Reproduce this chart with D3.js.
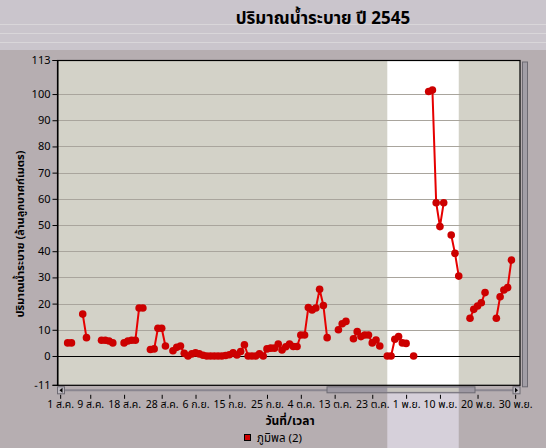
<!DOCTYPE html>
<html lang="th">
<head>
<meta charset="UTF-8">
<title>ปริมาณน้ำระบาย ปี 2545</title>
<script src="https://cdn.jsdelivr.net/npm/d3@7"></script>
<style type="text/css">
    body { margin: 0; background: #b7afb3; }
    text { font-family: "Noto Sans Thai", Tahoma, "Noto Sans", "DejaVu Sans", sans-serif; }
    .gridLine { stroke: #a9a59d; stroke-width: 1; }
    .tickText { fill: #000; }
</style>
</head>
<body>
<svg id="chart"></svg>
<script>

    // Sizes of the SVG
    var width = 546;
    var height = 448;

    // Data: daily release (million m3), 1 Aug 2002 (2545) onward, null = no data
    var startDate = "2002-08-01";
    var values = [
        null, null, 5, 5, null, null, 16, 7, null, null,
        null, 6, 6, 5.7, 5, null, null, 5, 5.7, 6,
        6, 18.3, 18.3, null, 2.5, 2.7, 10.6, 10.6, 3.8, null,
        2, 3.3, 3.8, 1, 0, 0.8, 1.2, 0.8, 0.3, 0,
        0, 0, 0, 0, 0.2, 0.5, 1.2, 0.4, 1.7, 4.3,
        0, 0, 0, 0.8, 0, 2.7, 3, 3, 4.6, 2.3,
        3.5, 4.6, 3.6, 3.6, 8, 8, 18.5, 17.6, 18.3, 25.5,
        19.3, 7, null, null, 10, 12.3, 13.2, null, 6.6, 9.3,
        7.4, 8, 8, 5, 6.1, 3.8, null, 0, 0, 6.4,
        7.4, 5, 4.8, null, 0, null, null, null, 101, 101.5,
        58.5, 49.4, 58.5, null, 46.2, 39.2, 30.5, null, null, 14.4,
        17.8, 19.1, 20.3, 24.2, null, null, 14.4, 22.6, 25.2, 26.1,
        36.6, null
    ];

    // Axis ticks
    var yTicks = [-11, 0, 10, 20, 30, 40, 50, 60, 70, 80, 90, 100, 113];
    var xTickDates = ["2002-08-01", "2002-08-09", "2002-08-18", "2002-08-28", "2002-09-06",
        "2002-09-15", "2002-09-25", "2002-10-04", "2002-10-13", "2002-10-23",
        "2002-11-01", "2002-11-10", "2002-11-20", "2002-11-30"];
    var xTickLabels = ["1 ส.ค.", "9 ส.ค.", "18 ส.ค.", "28 ส.ค.", "6 ก.ย.", "15 ก.ย.", "25 ก.ย.",
        "4 ต.ค.", "13 ต.ค.", "23 ต.ค.", "1 พ.ย.", "10 พ.ย.", "20 พ.ย.", "30 พ.ย."];

    // Highlighted period (white band)
    var bandDates = ["2002-10-27", "2002-11-15"];

    var title = "ปริมาณน้ำระบาย ปี 2545";
    var yTitle = "ปริมาณน้ำระบาย (ล้านลูกบาศก์เมตร)";
    var xTitle = "วันที่/เวลา";
    var seriesName = "ภูมิพล (2)";

    var parse = d3.timeParse("%Y-%m-%d");
    var start = parse(startDate);
    var points = values.map(function (v, i) {
        return {date: d3.timeDay.offset(start, i), value: v};
    });

    // Plot box
    var plotLeft = 57.5, plotRight = 520, plotTop = 60, plotBottom = 384.8;

    var x = d3.scaleTime()
        .domain([d3.timeHour.offset(start, -17), d3.timeHour.offset(d3.timeDay.offset(start, 122), 7)])
        .range([plotLeft, plotRight]);

    var y = d3.scaleLinear()
        .domain([-11, 113])
        .range([plotBottom, plotTop]);

    var svg = d3.select("#chart")
        .attr("width", width)
        .attr("height", height)
        .style("display", "block");

    // Background pieces
    svg.append("rect").attr("x", 0).attr("y", 0).attr("width", width).attr("height", height).attr("fill", "#b6aeb1");
    svg.append("rect").attr("x", 0).attr("y", 0).attr("width", width).attr("height", 50).attr("fill", "#cac5cc");
    [24, 33, 42].forEach(function (ly) {
        svg.append("line").attr("x1", 0).attr("x2", width).attr("y1", ly + 0.5).attr("y2", ly + 0.5)
            .attr("stroke", "#d9d6d9").attr("stroke-width", 1);
    });

    var b0 = x(parse(bandDates[0])), b1 = x(parse(bandDates[1]));

    // lighter strip under the plot for the highlighted period
    svg.append("rect").attr("x", b0).attr("y", plotBottom).attr("width", b1 - b0).attr("height", height - plotBottom)
        .attr("fill", "#d6d0da");

    // plot area
    svg.append("rect").attr("x", plotLeft).attr("y", plotTop).attr("width", plotRight - plotLeft).attr("height", plotBottom - plotTop)
        .attr("fill", "#d3d2c8");
    svg.append("rect").attr("x", b0).attr("y", plotTop).attr("width", b1 - b0).attr("height", plotBottom - plotTop)
        .attr("fill", "#ffffff");

    // grid lines
    svg.selectAll(".gridLine")
        .data(yTicks.filter(function (d) { return d > 0 && d < 113; }))
        .enter()
        .append("line")
        .attr("class", "gridLine")
        .attr("x1", plotLeft).attr("x2", plotRight)
        .attr("y1", function (d) { return Math.round(y(d)) + 0.5; })
        .attr("y2", function (d) { return Math.round(y(d)) + 0.5; });

    // zero line
    svg.append("line")
        .attr("x1", plotLeft).attr("x2", plotRight)
        .attr("y1", Math.round(y(0)) + 0.5).attr("y2", Math.round(y(0)) + 0.5)
        .attr("stroke", "#000").attr("stroke-width", 1);

    // plot border
    svg.append("rect").attr("x", plotLeft).attr("y", plotTop + 0.5).attr("width", plotRight - plotLeft).attr("height", plotBottom - plotTop)
        .attr("fill", "none").attr("stroke", "#000").attr("stroke-width", 1.2);

    // y axis
    var yAxis = d3.axisLeft(y)
        .tickValues(yTicks)
        .tickSize(5)
        .tickPadding(2);
    var gy = svg.append("g")
        .attr("transform", "translate(" + plotLeft + ",0)")
        .call(yAxis);
    gy.attr("font-family", null);
    gy.select(".domain").attr("stroke", "#000");
    gy.selectAll("text").attr("class", "tickText").attr("font-size", 11);

    // horizontal scroll bar
    var sbY = plotBottom + 2;
    svg.append("line").attr("x1", plotLeft + 6).attr("x2", plotRight - 6).attr("y1", sbY + 3.5).attr("y2", sbY + 3.5)
        .attr("stroke", "#8a8690").attr("stroke-width", 2);
    svg.append("rect").attr("x", 327).attr("y", sbY).attr("width", 148).attr("height", 6)
        .attr("fill", "#9d98a2").attr("stroke", "#6d6a72").attr("stroke-width", 1);
    svg.append("rect").attr("x", b0).attr("y", sbY + 1).attr("width", b1 - b0).attr("height", 4)
        .attr("fill", "#c9c6c0");
    [[plotLeft, "M" + (plotLeft + 5) + "," + (sbY + 1) + "L" + (plotLeft + 2) + "," + (sbY + 3.5) + "L" + (plotLeft + 5) + "," + (sbY + 6) + "Z"],
     [plotRight - 7, "M" + (plotRight - 5) + "," + (sbY + 1) + "L" + (plotRight - 2) + "," + (sbY + 3.5) + "L" + (plotRight - 5) + "," + (sbY + 6) + "Z"]]
        .forEach(function (bt) {
            svg.append("rect").attr("x", bt[0]).attr("y", sbY).attr("width", 7).attr("height", 7)
                .attr("fill", "#bdb9c0").attr("stroke", "#6d6a72");
            svg.append("path").attr("d", bt[1]).attr("fill", "#000");
        });

    // vertical scroll bar on the right
    svg.append("rect").attr("x", 522.5).attr("y", plotTop + 2).attr("width", 5).attr("height", plotBottom - plotTop)
        .attr("fill", "#a29ea6").attr("stroke", "#6d6a72").attr("stroke-width", 1);

    // x axis ticks and labels
    var xAxis = d3.axisBottom(x)
        .tickValues(xTickDates.map(parse))
        .tickSize(4)
        .tickPadding(2)
        .tickFormat(function (d, i) { return xTickLabels[i]; });
    var gx = svg.append("g")
        .attr("transform", "translate(0," + (plotBottom + 10) + ")")
        .call(xAxis);
    gx.attr("font-family", null);
    gx.select(".domain").remove();
    gx.selectAll("text").attr("class", "tickText").attr("font-size", 10.5);

    // series line
    var line = d3.line()
        .defined(function (d) { return d.value !== null; })
        .x(function (d) { return x(d.date); })
        .y(function (d) { return y(d.value); });

    svg.append("path")
        .datum(points)
        .attr("fill", "none")
        .attr("stroke", "#e60000")
        .attr("stroke-width", 2)
        .attr("d", line);

    svg.selectAll(".dot")
        .data(points.filter(function (d) { return d.value !== null; }))
        .enter()
        .append("circle")
        .attr("class", "dot")
        .attr("cx", function (d) { return x(d.date); })
        .attr("cy", function (d) { return y(d.value); })
        .attr("r", 3.8)
        .attr("fill", "#cc0000");

    // titles
    svg.append("text")
        .attr("x", 323).attr("y", 24)
        .attr("text-anchor", "middle")
        .attr("font-size", 17).attr("font-weight", "bold")
        .text(title);

    svg.append("text")
        .attr("transform", "translate(24,234) rotate(-90)")
        .attr("text-anchor", "middle")
        .attr("font-size", 11).attr("font-weight", "bold")
        .text(yTitle);

    svg.append("text")
        .attr("x", 290).attr("y", 425)
        .attr("text-anchor", "middle")
        .attr("font-size", 12).attr("font-weight", "bold")
        .text(xTitle);

    // legend
    svg.append("rect").attr("x", 244.5).attr("y", 434.5).attr("width", 6).attr("height", 6)
        .attr("fill", "#d00000").attr("stroke", "#000");
    svg.append("text").attr("x", 257).attr("y", 441.5).attr("font-size", 11.5).text(seriesName);

</script>
</body>
</html>
